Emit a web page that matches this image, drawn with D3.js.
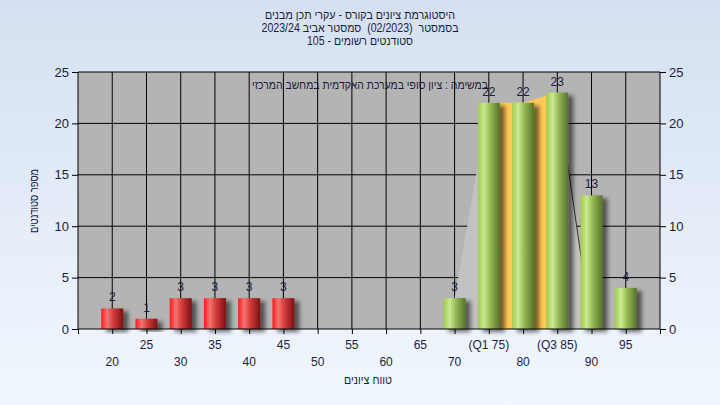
<!DOCTYPE html>
<html><head><meta charset="utf-8">
<script src="https://cdn.jsdelivr.net/npm/d3@7"></script>
<style>body{margin:0;}svg{display:block;font-family:"Liberation Sans",Arial,sans-serif;} .pre{white-space:pre;}</style>
</head><body>
<svg id="c" width="720" height="405"></svg>
<script>
const grades = [20,25,30,35,40,45,50,55,60,65,70,75,80,85,90,95];
const counts = [2,1,3,3,3,3,0,0,0,0,3,22,22,23,13,4];
const tickLabels = ["20","25","30","35","40","45","50","55","60","65","70","(Q1 75)","80","(Q3 85)","90","95"];
const yTicks = [0,5,10,15,20,25];
const failGrades = [20,25,30,35,40,45];
const quartileRange = [75,85];
const shadeGrades = [70,75,80,85];
const shadeEnd = 90;
const titleLines = ["היסטוגרמת ציונים בקורס - עקרי תכן מבנים","בסמסטר  (02/2023)  סמסטר אביב 2023/24","סטודנטים רשומים - 105"];
const titleWidths = [190,197,106];
const subtitle = "במשימה : ציון סופי במערכת האקדמית במחשב המרכזי";
const yTitle = "מספר סטודנטים";
const xTitle = "טווח ציונים";

const svg = d3.select("#c");
const L=78, R=660, T=72, B=329;
const x = d3.scaleLinear().domain([15,100]).range([L,R]);
const y = d3.scaleLinear().domain([0,25]).range([B,T]);
const bw = 22;

const defs = svg.append("defs");
const bg = defs.append("linearGradient").attr("id","bg").attr("x1",0).attr("y1",0).attr("x2",0).attr("y2",1);
bg.append("stop").attr("offset","0").attr("stop-color","#d4e0f1");
bg.append("stop").attr("offset","1").attr("stop-color","#f1f7fe");
const rg = defs.append("linearGradient").attr("id","red");
[[0,"#ff1c1c"],[0.28,"#f27474"],[0.55,"#d43a3a"],[1,"#7a1212"]].forEach(s=>rg.append("stop").attr("offset",s[0]).attr("stop-color",s[1]));
const gg = defs.append("linearGradient").attr("id","green");
[[0,"#9fcb4c"],[0.28,"#cbe892"],[0.55,"#96bb55"],[1,"#55722a"]].forEach(s=>gg.append("stop").attr("offset",s[0]).attr("stop-color",s[1]));
const f = defs.append("filter").attr("id","sh").attr("x","-20%").attr("y","-20%").attr("width","160%").attr("height","140%");
f.append("feDropShadow").attr("dx",5).attr("dy",3).attr("stdDeviation",2).attr("flood-color","#000").attr("flood-opacity",0.55);

svg.append("rect").attr("width",720).attr("height",405).attr("fill","url(#bg)");
svg.append("rect").attr("x",L).attr("y",T).attr("width",R-L).attr("height",B-T).attr("fill","#b4b4b4");

// gridlines
svg.append("g").selectAll("line").data(grades).join("line")
  .attr("x1",d=>x(d)).attr("x2",d=>x(d)).attr("y1",T).attr("y2",B).attr("stroke","#000");
svg.append("g").selectAll("line").data(yTicks.filter(d=>d>0&&d<25)).join("line")
  .attr("x1",L).attr("x2",R).attr("y1",d=>y(d)).attr("y2",d=>y(d)).attr("stroke","#000");

// light shade area
const shadePts = shadeGrades.map(g=>[g,counts[grades.indexOf(g)]]);
shadePts.unshift([shadeGrades[0],0]);
shadePts.push([shadeEnd,0]);
svg.append("path").attr("d",d3.line().x(d=>x(d[0])).y(d=>y(d[1]))(shadePts)+"Z").attr("fill","#c2c2c2");
const lastG = shadeGrades[shadeGrades.length-1];
svg.append("line").attr("x1",x(lastG)).attr("y1",y(counts[grades.indexOf(lastG)]))
  .attr("x2",x(shadeEnd)).attr("y2",y(0)).attr("stroke","#333").attr("stroke-width",1);

// quartile area
const qData = grades.map((g,i)=>[g,counts[i]]).filter(d=>d[0]>=quartileRange[0]&&d[0]<=quartileRange[1]);
svg.append("path").attr("d",d3.area().x(d=>x(d[0])).y0(y(0)).y1(d=>y(d[1]))(qData)).attr("fill","#ffc955");

// frame
svg.append("line").attr("x1",L).attr("x2",R).attr("y1",T).attr("y2",T).attr("stroke","#000");

// subtitle inside plot
svg.append("text").attr("x",488).attr("y",89).attr("text-anchor","start").attr("direction","rtl")
  .attr("font-size",12).attr("fill","#1c1c3c").attr("textLength",236).attr("lengthAdjust","spacingAndGlyphs").text(subtitle);

// bars
const data = grades.map((g,i)=>({g,c:counts[i]})).filter(d=>d.c>0);
svg.append("g").selectAll("rect").data(data).join("rect")
  .attr("x",d=>x(d.g)-bw/2).attr("y",d=>y(d.c)).attr("width",bw).attr("height",d=>y(0)-y(d.c))
  .attr("fill",d=>failGrades.includes(d.g)?"url(#red)":"url(#green)").attr("filter","url(#sh)");
svg.append("g").selectAll("text").data(data).join("text")
  .attr("x",d=>x(d.g)).attr("y",d=>y(d.c)-7).attr("text-anchor","middle")
  .attr("font-size",12).attr("fill","#1c1c3c").text(d=>d.c);

// axes
const axL = d3.axisLeft(y).tickValues(yTicks).tickSize(6).tickPadding(3);
const axR = d3.axisRight(y).tickValues(yTicks).tickSize(6).tickPadding(3);
const gl = svg.append("g").attr("transform",`translate(${L},0)`).call(axL);
const gr = svg.append("g").attr("transform",`translate(${R},0)`).call(axR);
[gl,gr].forEach(g=>{g.select(".domain").attr("stroke","#000").attr("d",`M0,${T}V${B}`);
  g.selectAll(".tick line").attr("stroke","#000");
  g.selectAll(".tick text").attr("font-size",13).attr("fill","#1c1c3c").attr("font-family","Liberation Sans,Arial,sans-serif");});
const axB = d3.axisBottom(x).tickValues([15].concat(grades,[100])).tickSize(5).tickFormat("");
const gb = svg.append("g").attr("transform",`translate(0,${B})`).call(axB);
gb.select(".domain").attr("stroke","#000").attr("d",`M${L},0H${R}`);
gb.selectAll(".tick line").attr("stroke","#000");
svg.append("g").selectAll("text").data(grades).join("text")
  .attr("x",d=>x(d)).attr("y",(d,i)=>i%2?349:366).attr("text-anchor","middle")
  .attr("font-size",12).attr("fill","#1c1c3c").text((d,i)=>tickLabels[i]);

// titles
svg.append("g").selectAll("text").data(titleLines).join("text").attr("class","pre")
  .attr("x",360).attr("y",(d,i)=>19+i*13).attr("text-anchor","middle").attr("direction","rtl")
  .attr("textLength",(d,i)=>titleWidths[i]).attr("lengthAdjust","spacingAndGlyphs")
  .attr("font-size",12).attr("fill","#1c1c3c").text(d=>d);
svg.append("text").attr("transform","translate(38,201) rotate(-90)").attr("text-anchor","middle").attr("direction","rtl")
  .attr("textLength",64).attr("lengthAdjust","spacingAndGlyphs")
  .attr("font-size",12).attr("fill","#1c1c3c").text(yTitle);
svg.append("text").attr("x",368).attr("y",384).attr("text-anchor","middle").attr("direction","rtl")
  .attr("textLength",48).attr("lengthAdjust","spacingAndGlyphs")
  .attr("font-size",12).attr("fill","#1c1c3c").text(xTitle);
</script>
</body></html>
